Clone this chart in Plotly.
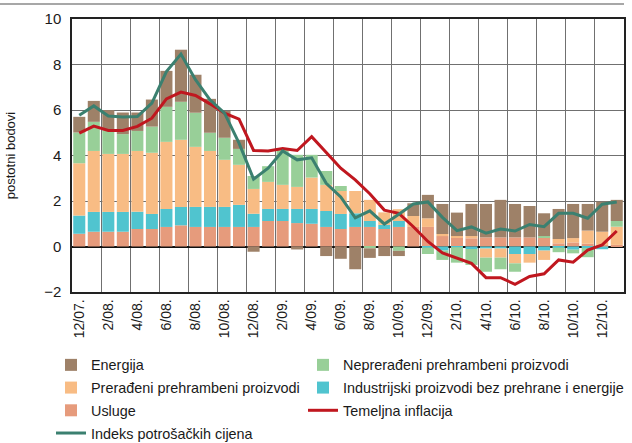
import plotly.graph_objects as go

months = ["12/07", "1/08", "2/08", "3/08", "4/08", "5/08", "6/08", "7/08", "8/08", "9/08",
          "10/08", "11/08", "12/08", "1/09", "2/09", "3/09", "4/09", "5/09", "6/09", "7/09",
          "8/09", "9/09", "10/09", "11/09", "12/09", "1/10", "2/10", "3/10", "4/10", "5/10",
          "6/10", "7/10", "8/10", "9/10", "10/10", "11/10", "12/10", "1/11"]

tick_labels = ["12/07.", "2/08.", "4/08.", "6/08.", "8/08.", "10/08.", "12/08.", "2/09.", "4/09.",
               "6/09.", "8/09.", "10/09.", "12/09.", "2/10.", "4/10.", "6/10.", "8/10.", "10/10.", "12/10."]

usluge = [0.56, 0.65, 0.65, 0.65, 0.77, 0.77, 0.86, 0.93, 0.86, 0.86,
          0.86, 0.86, 0.86, 1.12, 1.12, 1.03, 1.00, 0.86, 0.77, 0.86,
          0.86, 0.77, 0.86, 0.86, 0.86, 0.46, 0.40, 0.36, 0.40, 0.40,
          0.40, 0.40, 0.40, 0.14, 0.18, 0.12, 0.07, 0.07]
industrijski = [0.80, 0.87, 0.87, 0.87, 0.76, 0.66, 0.79, 0.81, 0.88, 0.88,
                0.88, 0.97, 0.58, 0.53, 0.53, 0.62, 0.65, 0.70, 0.66, 0.60,
                0.26, 0.18, 0.26, 0.00, -0.05, -0.18, -0.03, -0.11, -0.09, -0.09,
                -0.33, -0.33, -0.18, -0.05, -0.14, -0.06, -0.12, 0.00]
preradeni = [2.30, 2.68, 2.55, 2.55, 2.67, 2.69, 2.95, 2.95, 2.64, 2.46,
             2.07, 1.76, 1.09, 1.19, 1.06, 0.97, 1.38, 1.15, 1.01, 0.98,
             0.93, 0.55, 0.52, 0.48, 0.38, 0.09, 0.06, 0.10, -0.40, -0.40,
             -0.41, -0.38, -0.41, 0.19, 0.19, 0.58, 0.58, 0.80]
nepreradeni = [1.35, 1.28, 1.03, 0.87, 0.88, 1.15, 1.54, 1.67, 1.50, 0.80,
               0.97, 0.70, 0.57, 0.69, 1.54, 1.41, 1.00, 0.61, 0.22, 0.00,
               -0.08, 0.00, -0.19, 0.00, -0.28, -0.41, -0.68, -0.70, -0.62, -0.51,
               -0.37, 0.00, 0.06, -0.20, -0.16, -0.41, 0.00, 0.25]
energija = [0.69, 0.92, 0.89, 0.95, 0.81, 1.19, 1.58, 2.29, 1.67, 1.49,
            1.18, 0.40, -0.23, 0.00, 0.00, -0.13, 0.00, -0.42, -0.54, -1.00,
            -0.42, -0.42, -0.23, 0.56, 1.03, 1.32, 1.03, 1.41, 1.47, 1.65,
            1.47, 1.38, 1.00, 1.32, 1.50, 1.17, 1.32, 0.93]
indeks = [5.77, 6.18, 5.74, 5.69, 5.71, 6.30, 7.69, 8.46, 7.33, 6.45,
          5.86, 4.54, 2.96, 3.44, 4.20, 3.81, 3.90, 2.78, 2.18, 1.26,
          1.57, 0.99, 1.42, 1.87, 1.96, 1.28, 0.70, 0.86, 0.59, 0.77,
          0.68, 0.97, 0.87, 1.46, 1.46, 1.24, 1.86, 1.96]
temeljna = [4.98, 5.29, 5.10, 5.10, 5.28, 5.64, 6.49, 6.79, 6.64, 6.27,
            5.86, 5.60, 4.22, 4.20, 4.31, 4.22, 4.83, 4.15, 3.44, 2.93,
            2.32, 1.60, 1.46, 0.87, 0.22, -0.28, -0.52, -0.74, -1.37, -1.37,
            -1.66, -1.32, -1.20, -0.59, -0.69, -0.16, 0.07, 0.68]

x = list(range(len(months)))
FONT = "Liberation Sans, Arial, sans-serif"

fig = go.Figure()
# (name, values, colour, legend rank, legend column)
bar_specs = [
    ("Usluge", usluge, "#e69b7c", 5, "legend"),
    ("Industrijski proizvodi bez prehrane i energije", industrijski, "#50c4cf", 4, "legend2"),
    ("Prerađeni prehrambeni proizvodi", preradeni, "#f8bc84", 3, "legend"),
    ("Neprerađeni prehrambeni proizvodi", nepreradeni, "#98cf98", 2, "legend2"),
    ("Energija", energija, "#9e8168", 1, "legend"),
]
for name, vals, col, rank, leg in bar_specs:
    fig.add_trace(go.Bar(x=x, y=vals, name=name, marker_color=col,
                         marker_line_width=0, legendrank=rank, legend=leg, legendgroup=name,
                         customdata=months, hovertemplate="%{customdata}: %{y}<extra></extra>"))

fig.add_trace(go.Scatter(x=x, y=temeljna, name="Temeljna inflacija", mode="lines",
                         line=dict(color="#c0171f", width=3), legendrank=6,
                         legend="legend2", legendgroup="tem"))
fig.add_trace(go.Scatter(x=x, y=indeks, name="Indeks potrošačkih cijena", mode="lines",
                         line=dict(color="#3b8070", width=3), legendrank=7,
                         legend="legend", legendgroup="ipc"))

legend_common = dict(orientation="v", xref="paper", yref="container",
                     y=1 - 349 / 443, xanchor="left", yanchor="top",
                     traceorder="grouped", tracegroupgap=1.0,
                     font=dict(size=14.4), bgcolor="rgba(0,0,0,0)")

GRID = "#707070"
fig.update_layout(
    width=632, height=443,
    margin=dict(l=72, r=8, t=19, b=151),
    barmode="relative", bargap=0.17,
    paper_bgcolor="white", plot_bgcolor="white",
    font=dict(family=FONT, size=14, color="#1a1a1a"),
    showlegend=True,
    legend=dict(x=-21 / 552, **legend_common),
    legend2=dict(x=231 / 552, **legend_common),
    xaxis=dict(range=[-0.5, len(months) - 0.5], tickmode="array",
               tickvals=x[::2], ticktext=tick_labels, tickangle=-90,
               showgrid=False, ticks="", showline=True, linecolor="#222", linewidth=1.5,
               mirror=True, zeroline=False, automargin=False,
               minor=dict(showgrid=True, tick0=-0.5, dtick=2, gridcolor=GRID, gridwidth=1.3),
               tickfont=dict(size=14)),
    yaxis=dict(range=[-2, 10], dtick=2, showgrid=True, gridcolor=GRID, gridwidth=1.3,
               zeroline=True, zerolinecolor="#111", zerolinewidth=1.5,
               showline=True, linecolor="#222", linewidth=1.5, mirror=True,
               ticks="", tickfont=dict(size=15), automargin=False, ticklabelstandoff=6,
               title=dict(text="postotni bodovi", standoff=26, font=dict(size=13))),
)

fig.add_shape(type="line", xref="paper", yref="paper", x0=-72/552, x1=1.0,
              y0=1.055, y1=1.055, line=dict(color="#8a8a8a", width=1.5))

fig.write_html("out.html", config={"displayModeBar": False},
               post_script="document.body.style.margin='0';document.body.style.overflow='hidden';")
